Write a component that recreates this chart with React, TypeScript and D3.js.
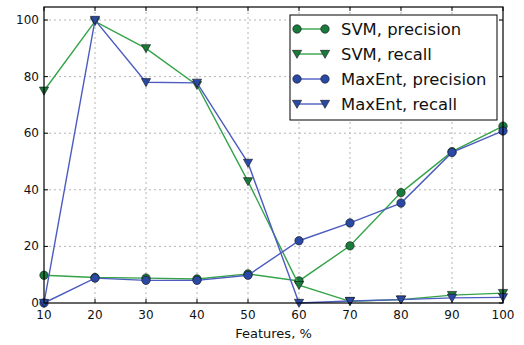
import React from 'react';
import * as d3 from 'd3';

const features = [10, 20, 30, 40, 50, 60, 70, 80, 90, 100];
const svmPrecision = [9.8, 9.0, 8.8, 8.5, 10.3, 7.8, 20.2, 39.0, 53.5, 62.5];
const svmRecall = [75, 99.5, 90, 77, 43, 6.3, 0.6, 1.2, 2.8, 3.5];
const maxentPrecision = [0, 8.8, 8.0, 8.0, 9.8, 22.0, 28.3, 35.3, 53.2, 60.8];
const maxentRecall = [0, 100, 78, 77.8, 49.5, 0, 0.7, 1.2, 1.8, 2.0];
const xTicks = [10, 20, 30, 40, 50, 60, 70, 80, 90, 100];
const yTicks = [0, 20, 40, 60, 80, 100];

const W = 524, H = 345;
const left = 44, right = 503, top = 7, bottom = 303;

const GREEN_LINE = '#35a34a';
const GREEN_MARK = '#197a3c';
const BLUE_LINE = '#4c5cc0';
const BLUE_MARK = '#2a49a5';

interface Series {
  label: string;
  values: number[];
  line: string;
  fill: string;
  marker: 'circle' | 'tri';
}

const series: Series[] = [
  { label: 'SVM, precision', values: svmPrecision, line: GREEN_LINE, fill: GREEN_MARK, marker: 'circle' },
  { label: 'SVM, recall', values: svmRecall, line: GREEN_LINE, fill: GREEN_MARK, marker: 'tri' },
  { label: 'MaxEnt, precision', values: maxentPrecision, line: BLUE_LINE, fill: BLUE_MARK, marker: 'circle' },
  { label: 'MaxEnt, recall', values: maxentRecall, line: BLUE_LINE, fill: BLUE_MARK, marker: 'tri' },
];

const Marker = ({ kind, x, y, fill }: { kind: string; x: number; y: number; fill: string }) => {
  if (kind === 'circle') {
    return <circle cx={x} cy={y} r={4.2} fill={fill} stroke="#111" strokeWidth={0.6} />;
  }
  const s = 4.6;
  return (
    <path
      d={`M${x - s},${y - s * 0.8}L${x + s},${y - s * 0.8}L${x},${y + s * 0.95}Z`}
      fill={fill}
      stroke="#111"
      strokeWidth={0.6}
    />
  );
};

const App = () => {
  const x = d3.scaleLinear().domain([10, 100]).range([left, right]);
  const y = d3.scaleLinear().domain([0, 104.6]).range([bottom, top]);
  const line = d3.line<number>().x((_, i) => x(features[i])).y(d => y(d));
  const font = 'DejaVu Sans, sans-serif';

  const legX = 290, legY = 15, legW = 207, legH = 105;

  return (
    <svg width={W} height={H} style={{ position: 'absolute', left: 0, top: 0, background: '#fff' }}>
      {/* grid */}
      {xTicks.slice(1, -1).map(t => (
        <line key={'gx' + t} x1={x(t)} x2={x(t)} y1={top} y2={bottom} stroke="#b4b4b4" strokeDasharray="2,3" />
      ))}
      {yTicks.slice(1).map(t => (
        <line key={'gy' + t} x1={left} x2={right} y1={y(t)} y2={y(t)} stroke="#b4b4b4" strokeDasharray="2,3" />
      ))}
      {/* ticks inside */}
      {xTicks.map(t => (
        <g key={'tx' + t}>
          <line x1={x(t)} x2={x(t)} y1={bottom} y2={bottom - 4} stroke="#000" />
          <line x1={x(t)} x2={x(t)} y1={top} y2={top + 4} stroke="#000" />
          <text x={x(t)} y={bottom + 16} textAnchor="middle" fontFamily={font} fontSize={12} fill="#111">{t}</text>
        </g>
      ))}
      {yTicks.map(t => (
        <g key={'ty' + t}>
          <line x1={left} x2={left + 4} y1={y(t)} y2={y(t)} stroke="#000" />
          <line x1={right} x2={right - 4} y1={y(t)} y2={y(t)} stroke="#000" />
          <text x={left - 5} y={y(t) + 4} textAnchor="end" fontFamily={font} fontSize={12} fill="#111">{t}</text>
        </g>
      ))}
      {/* series */}
      {series.map(s => (
        <g key={s.label}>
          <path d={line(s.values) || ''} fill="none" stroke={s.line} strokeWidth={1.4} />
          {s.values.map((v, i) => (
            <Marker key={i} kind={s.marker} x={x(features[i])} y={y(v)} fill={s.fill} />
          ))}
        </g>
      ))}
      {/* frame */}
      <rect x={left} y={top} width={right - left} height={bottom - top} fill="none" stroke="#000" strokeWidth={1.2} />
      <text x={(left + right) / 2} y={338} textAnchor="middle" fontFamily={font} fontSize={13} fill="#111">Features, %</text>
      {/* legend */}
      <rect x={legX} y={legY} width={legW} height={legH} fill="#fff" stroke="#000" strokeWidth={1} />
      {series.map((s, i) => {
        const cy = 29 + i * 25;
        return (
          <g key={'leg' + s.label}>
            <line x1={297} x2={325} y1={cy} y2={cy} stroke={s.line} strokeWidth={1.4} />
            <Marker kind={s.marker} x={297} y={cy} fill={s.fill} />
            <Marker kind={s.marker} x={325} y={cy} fill={s.fill} />
            <text x={341} y={cy + 6} fontFamily={font} fontSize={16.4} fill="#111">{s.label}</text>
          </g>
        );
      })}
    </svg>
  );
};

export default App;
